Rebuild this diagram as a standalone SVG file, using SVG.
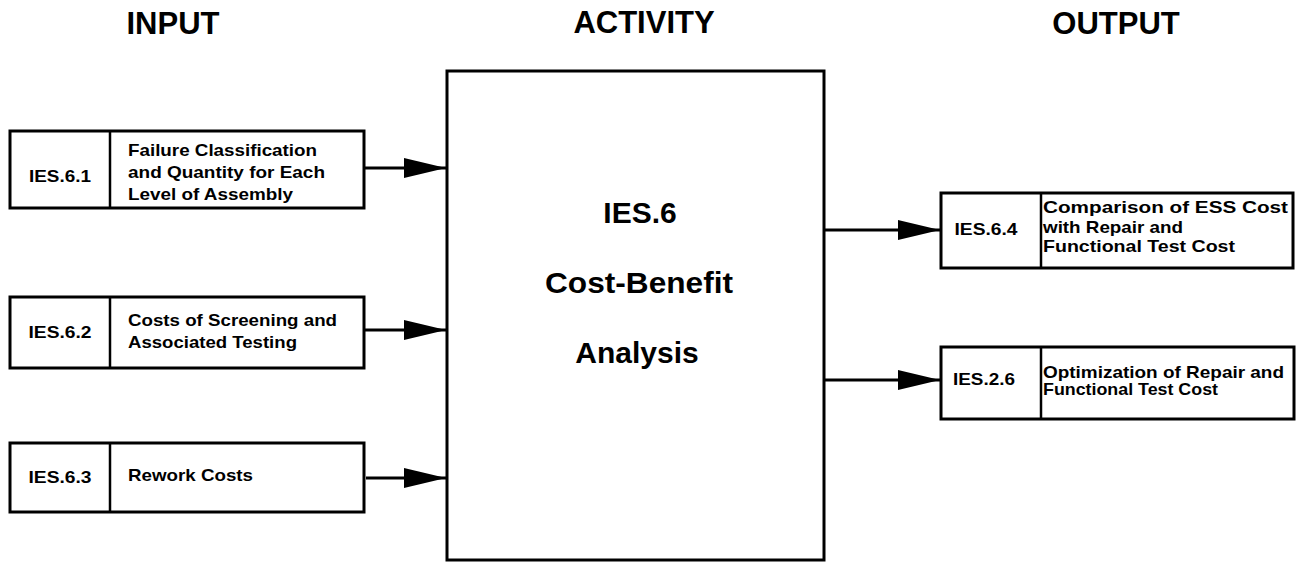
<svg xmlns="http://www.w3.org/2000/svg" width="1296" height="562" viewBox="0 0 1296 562">
<style>
.box{fill:#fff;stroke:#000;stroke-width:3}
.div{stroke:#000;stroke-width:2.5}
.hdr{font-family:"Liberation Sans",Arial,sans-serif;font-weight:bold;font-size:31px;fill:#000;text-anchor:middle}
.big{font-family:"Liberation Sans",Arial,sans-serif;font-weight:bold;font-size:30px;fill:#000;text-anchor:middle}
.id{font-family:"Liberation Sans",Arial,sans-serif;font-weight:bold;font-size:17px;fill:#000;text-anchor:middle}
.txt{font-family:"Liberation Sans",Arial,sans-serif;font-weight:bold;font-size:17px;fill:#000}
.conn{stroke:#000;stroke-width:3;fill:none;marker-end:url(#arr)}
</style>
<defs>
<marker id="arr" viewBox="0 0 42 20" refX="42" refY="10" markerWidth="42" markerHeight="20" markerUnits="userSpaceOnUse" orient="auto">
<path d="M0,0 L42,10 L0,20 z" fill="#000"/>
</marker>
</defs>
<rect width="1296" height="562" fill="#fff"/>
<g id="headers">
<text class="hdr" x="173" y="34">INPUT</text>
<text class="hdr" x="644" y="33">ACTIVITY</text>
<text class="hdr" x="1116" y="34">OUTPUT</text>
</g>
<g id="activity">
<rect class="box" x="447" y="71" width="377" height="489"/>
<text class="big" x="640" y="223">IES.6</text>
<text class="big" x="639" y="293" textLength="188" lengthAdjust="spacingAndGlyphs">Cost-Benefit</text>
<text class="big" x="637" y="363">Analysis</text>
</g>
<g id="in1">
<rect class="box" x="10" y="131" width="354" height="77"/>
<line class="div" x1="110" y1="131" x2="110" y2="208"/>
<text class="id" x="60" y="182" textLength="62" lengthAdjust="spacingAndGlyphs">IES.6.1</text>
<text class="txt" x="128" y="156" textLength="189" lengthAdjust="spacingAndGlyphs">Failure Classification</text>
<text class="txt" x="128" y="178" textLength="197" lengthAdjust="spacingAndGlyphs">and Quantity for Each</text>
<text class="txt" x="128" y="200" textLength="165" lengthAdjust="spacingAndGlyphs">Level of Assembly</text>
</g>
<g id="in2">
<rect class="box" x="10" y="297" width="354" height="71"/>
<line class="div" x1="110" y1="297" x2="110" y2="368"/>
<text class="id" x="60" y="338" textLength="63" lengthAdjust="spacingAndGlyphs">IES.6.2</text>
<text class="txt" x="128" y="326" textLength="209" lengthAdjust="spacingAndGlyphs">Costs of Screening and</text>
<text class="txt" x="128" y="348" textLength="169" lengthAdjust="spacingAndGlyphs">Associated Testing</text>
</g>
<g id="in3">
<rect class="box" x="10" y="443" width="354" height="69"/>
<line class="div" x1="110" y1="443" x2="110" y2="512"/>
<text class="id" x="60" y="483" textLength="63" lengthAdjust="spacingAndGlyphs">IES.6.3</text>
<text class="txt" x="128" y="481" textLength="125" lengthAdjust="spacingAndGlyphs">Rework Costs</text>
</g>
<g id="out1">
<rect class="box" x="941" y="193" width="352" height="75"/>
<line class="div" x1="1041" y1="193" x2="1041" y2="268"/>
<text class="id" x="986" y="235" textLength="63" lengthAdjust="spacingAndGlyphs">IES.6.4</text>
<text class="txt" x="1043" y="213" textLength="245" lengthAdjust="spacingAndGlyphs">Comparison of ESS Cost</text>
<text class="txt" x="1043" y="233" textLength="140" lengthAdjust="spacingAndGlyphs">with Repair and</text>
<text class="txt" x="1043" y="252" textLength="192" lengthAdjust="spacingAndGlyphs">Functional Test Cost</text>
</g>
<g id="out2">
<rect class="box" x="941" y="347" width="353" height="72"/>
<line class="div" x1="1041" y1="347" x2="1041" y2="419"/>
<text class="id" x="984" y="385" textLength="62" lengthAdjust="spacingAndGlyphs">IES.2.6</text>
<text class="txt" x="1043" y="378" textLength="241" lengthAdjust="spacingAndGlyphs">Optimization of Repair and</text>
<text class="txt" x="1043" y="395" textLength="175" lengthAdjust="spacingAndGlyphs">Functional Test Cost</text>
</g>
<g id="connectors">
<path class="conn" d="M364,168 H446"/>
<path class="conn" d="M364,330 H446"/>
<path class="conn" d="M366,478 H446"/>
<path class="conn" d="M824,230 H940"/>
<path class="conn" d="M824,380 H940"/>
</g>
</svg>
